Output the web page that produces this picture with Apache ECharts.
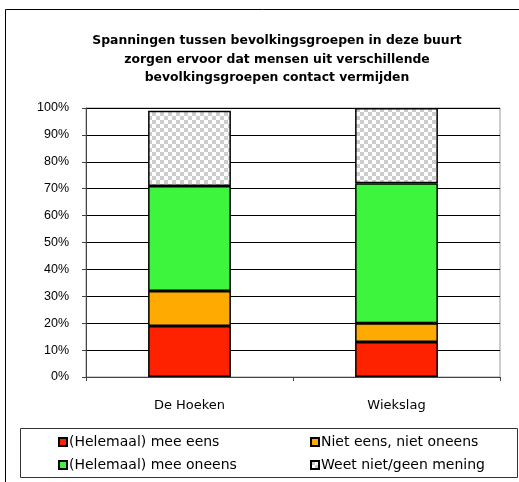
<!DOCTYPE html>
<html>
<head>
<meta charset="utf-8">
<script src="https://cdn.jsdelivr.net/npm/echarts@6/dist/echarts.min.js"></script>
<style>
  html, body { margin: 0; padding: 0; background: #fff; }
  #chart { width: 519px; height: 482px; }
</style>
</head>
<body>
<div id="chart"></div>
<script>
// gegevens
const buurten = ['De Hoeken', 'Wiekslag'];
const meeEens = [19, 13];
const neutraal = [13, 7];
const meeOneens = [39, 52];
const weetNiet = [28, 28];
const yTicks = [0, 10, 20, 30, 40, 50, 60, 70, 80, 90, 100];

const chart = echarts.init(document.getElementById('chart'));

// ruitjespatroon voor "weet niet"
const pat = document.createElement('canvas');
pat.width = 8; pat.height = 8;
const ctx = pat.getContext('2d');
ctx.fillStyle = '#ffffff';
ctx.fillRect(0, 0, 8, 8);
ctx.fillStyle = '#cccccc';
ctx.fillRect(0, 0, 4, 4);
ctx.fillRect(4, 4, 4, 4);

const font = 'DejaVu Sans';
const border = { borderColor: '#000', borderWidth: 1.5 };

function serie(name, data, color) {
  return {
    name: name,
    type: 'bar',
    stack: 'totaal',
    barWidth: '40%',
    data: data,
    itemStyle: Object.assign({ color: color }, border)
  };
}

const legendStijl = {
  orient: 'vertical', itemGap: 9, padding: 0,
  itemWidth: 8, itemHeight: 8, icon: 'rect',
  textStyle: { fontFamily: font, fontSize: 14, color: '#000', padding: [0, 0, 0, -3] }
};

const option = {
  animation: false,
  textStyle: { fontFamily: font },
  title: {
    text: 'Spanningen tussen bevolkingsgroepen in deze buurt\nzorgen ervoor dat mensen uit verschillende\nbevolkingsgroepen contact vermijden',
    left: 272,
    top: 27,
    textAlign: 'center',
    textStyle: { fontFamily: font, fontSize: 12.4, fontWeight: 'bold', color: '#000', lineHeight: 18.5 }
  },
  graphic: [
    { type: 'rect', shape: { x: 5.5, y: 9.5, width: 530, height: 490 }, style: { fill: 'none', stroke: '#000', lineWidth: 1 }, silent: true },
    { type: 'rect', shape: { x: 20.5, y: 428.5, width: 497, height: 49 }, style: { fill: 'none', stroke: '#333', lineWidth: 1 }, silent: true }
  ],
  legend: [
    Object.assign({ left: 58, top: 435, data: ['(Helemaal) mee eens', '(Helemaal) mee oneens'] }, legendStijl),
    Object.assign({ left: 310, top: 435, data: ['Niet eens, niet oneens', 'Weet niet/geen mening'] }, legendStijl)
  ],
  grid: { left: 86, right: 19, top: 108, bottom: 105, show: true, borderColor: '#999', borderWidth: 1 },
  xAxis: {
    type: 'category',
    data: buurten,
    axisLine: { lineStyle: { color: '#444' } },
    axisTick: { show: true, length: 4, lineStyle: { color: '#444' } },
    axisLabel: { margin: 22, fontSize: 13, color: '#000', fontFamily: font }
  },
  yAxis: {
    type: 'value',
    min: yTicks[0],
    max: yTicks[yTicks.length - 1],
    interval: 10,
    axisLine: { show: true, lineStyle: { color: '#444' } },
    axisTick: { show: true, length: 4, lineStyle: { color: '#444' } },
    axisLabel: { formatter: '{value}%', margin: 17, fontSize: 12.5, color: '#000', fontFamily: 'Liberation Sans' },
    splitLine: { lineStyle: { color: '#000', width: 1 } }
  },
  series: [
    serie('(Helemaal) mee eens', meeEens, '#ff2200'),
    serie('Niet eens, niet oneens', neutraal, '#ffaa00'),
    serie('(Helemaal) mee oneens', meeOneens, '#3cf53c'),
    serie('Weet niet/geen mening', weetNiet, { image: pat, repeat: 'repeat' })
  ]
};

chart.setOption(option);
</script>
</body>
</html>
